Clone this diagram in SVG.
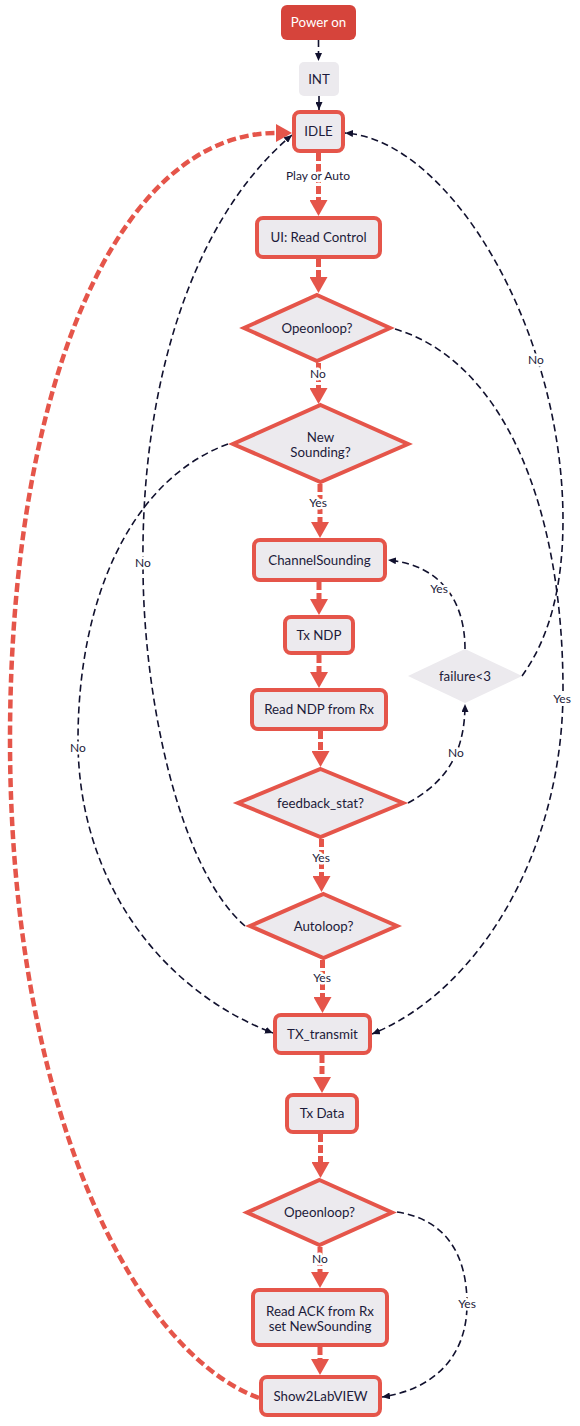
<svg xmlns="http://www.w3.org/2000/svg" width="580" height="1426" viewBox="0 0 580 1426">
<style>
.node{fill:#ECEAEE;stroke:#E5554A;stroke-width:4}
.dia{fill:#ECEAEE;stroke:#E5554A;stroke-width:4;stroke-linejoin:miter}
.plain{fill:#ECEAEE}
.t{font-family:Lato,"Open Sans",sans-serif;font-size:13.3px;fill:#1C1B3A;text-anchor:middle}
.tw{font-family:Lato,"Open Sans",sans-serif;font-size:13.3px;fill:#FFFFFF;text-anchor:middle}
.lbl{font-family:Lato,"Open Sans",sans-serif;font-size:12px;fill:#1C1B3A;text-anchor:middle;stroke:#FFFFFF;stroke-width:5;paint-order:stroke;stroke-linejoin:round}
.red{fill:none;stroke:#E5554A;stroke-width:5;stroke-dasharray:8 3}
.redc{fill:none;stroke:#E5554A;stroke-width:4.5;stroke-dasharray:9 4}
.dk{fill:none;stroke:#11112E;stroke-width:1.6;stroke-dasharray:7 4}
.dks{fill:none;stroke:#11112E;stroke-width:1.6}
</style>
<defs>
<marker id="ra" markerUnits="userSpaceOnUse" viewBox="0 0 16 18" refX="0" refY="9" markerWidth="16" markerHeight="18" orient="auto">
<path d="M0,0 L16,9 L0,18 z" fill="#E5554A"/>
</marker>
<marker id="da" markerUnits="userSpaceOnUse" viewBox="0 0 8 7" refX="8" refY="3.5" markerWidth="8" markerHeight="7" orient="auto">
<path d="M0,0 L8,3.5 L0,7 z" fill="#11112E"/>
</marker>
</defs>

<g id="connectors">
<path class="dk" d="M318.5,40 L318.5,61" marker-end="url(#da)"/>
<path class="dks" d="M319,96 L319,110" marker-end="url(#da)"/>
<path class="red" d="M318.5,153 L318.5,200" marker-end="url(#ra)"/>
<path class="red" d="M318.5,259 L318.5,277" marker-end="url(#ra)"/>
<path class="red" d="M318.5,363 L318.5,388" marker-end="url(#ra)"/>
<path class="red" d="M320,484 L320,522" marker-end="url(#ra)"/>
<path class="red" d="M319,582 L319,599" marker-end="url(#ra)"/>
<path class="red" d="M319,655 L319,672" marker-end="url(#ra)"/>
<path class="red" d="M320.5,731 L320.5,751" marker-end="url(#ra)"/>
<path class="red" d="M321.5,839 L321.5,876" marker-end="url(#ra)"/>
<path class="red" d="M322.5,960 L322.5,997" marker-end="url(#ra)"/>
<path class="red" d="M322,1055 L322,1077" marker-end="url(#ra)"/>
<path class="red" d="M320.5,1134 L320.5,1162" marker-end="url(#ra)"/>
<path class="red" d="M320,1247 L320,1272" marker-end="url(#ra)"/>
<path class="red" d="M320,1347 L320,1359" marker-end="url(#ra)"/>
<path class="redc" d="M259,1398 C130,1350 10,1100 10,740 C10,380 120,133 276,133" marker-end="url(#ra)"/>
<path class="dk" d="M395,329 C500,360 563,500 563,690 C563,850 480,990 372,1034" marker-end="url(#da)"/>
<path class="dk" d="M522,676 C548,640 563,590 563,520 C563,330 450,140 345,133" marker-end="url(#da)"/>
<path class="dk" d="M465,649 C465,600 440,565 388,560" marker-end="url(#da)"/>
<path class="dk" d="M408,803 C440,785 465,760 465,704" marker-end="url(#da)"/>
<path class="dk" d="M228,444 C130,480 78,600 78,740 C78,880 160,990 273,1033" marker-end="url(#da)"/>
<path class="dk" d="M245,926 C180,870 143,700 143,565 C141,400 185,225 292,135" marker-end="url(#da)"/>
<path class="dk" d="M397,1212 C450,1220 467,1260 467,1304 C467,1360 430,1390 382,1397" marker-end="url(#da)"/>
<text class="lbl" x="318" y="180">Play or Auto</text>
<text class="lbl" x="318" y="378">No</text>
<text class="lbl" x="318" y="507">Yes</text>
<text class="lbl" x="321" y="862">Yes</text>
<text class="lbl" x="322" y="982">Yes</text>
<text class="lbl" x="320" y="1263">No</text>
<text class="lbl" x="562" y="703">Yes</text>
<text class="lbl" x="536" y="364">No</text>
<text class="lbl" x="439" y="593">Yes</text>
<text class="lbl" x="456" y="757">No</text>
<text class="lbl" x="78" y="752">No</text>
<text class="lbl" x="143" y="567">No</text>
<text class="lbl" x="467" y="1308">Yes</text>
</g>

<g id="power_on"><rect x="281" y="5" width="75" height="35" rx="6" fill="#D6443B"/><text class="tw" x="318.5" y="27">Power on</text></g>
<g id="int"><rect class="plain" x="299" y="62" width="40" height="34" rx="5"/><text class="t" x="319" y="83.5">INT</text></g>
<g id="idle"><rect class="node" x="294" y="112" width="49" height="39" rx="6"/><text class="t" x="318.5" y="136">IDLE</text></g>
<g id="ui_read_control"><rect class="node" x="257" y="218" width="123" height="39" rx="6"/><text class="t" x="318.5" y="242">UI: Read Control</text></g>
<g id="opeonloop1"><polygon class="dia" points="317,295 390,328 317,361 244,328"/><text class="t" x="317" y="332.5">Opeonloop?</text></g>
<g id="new_sounding"><polygon class="dia" points="320.5,405 408,444 320.5,482 233,444"/><text class="t" x="320.5" y="441.5">New</text><text class="t" x="320.5" y="456.5">Sounding?</text></g>
<g id="channel_sounding"><rect class="node" x="254" y="540" width="131" height="40" rx="6"/><text class="t" x="319.5" y="564.5">ChannelSounding</text></g>
<g id="tx_ndp"><rect class="node" x="285" y="617" width="68" height="36" rx="6"/><text class="t" x="319" y="639.5">Tx NDP</text></g>
<g id="read_ndp"><rect class="node" x="252" y="690" width="134" height="39" rx="6"/><text class="t" x="319" y="714">Read NDP from Rx</text></g>
<g id="feedback_stat"><polygon class="dia" points="320.5,769 403,803 320.5,837 238,803"/><text class="t" x="320.5" y="807.5">feedback_stat?</text></g>
<g id="failure"><polygon class="plain" points="465,649 522,676 465,703 408,676"/><text class="t" x="465" y="680.5">failure&lt;3</text></g>
<g id="autoloop"><polygon class="dia" points="323.5,894 397,926 323.5,958 250,926"/><text class="t" x="323.5" y="930.5">Autoloop?</text></g>
<g id="tx_transmit"><rect class="node" x="275" y="1015" width="95" height="38" rx="6"/><text class="t" x="322.5" y="1038.5">TX_transmit</text></g>
<g id="tx_data"><rect class="node" x="287" y="1095" width="70" height="37" rx="6"/><text class="t" x="322" y="1118">Tx Data</text></g>
<g id="opeonloop2"><polygon class="dia" points="319.5,1180 392,1212.5 319.5,1245 247,1212.5"/><text class="t" x="319.5" y="1217">Opeonloop?</text></g>
<g id="read_ack"><rect class="node" x="253" y="1290" width="134" height="55" rx="6"/><text class="t" x="320" y="1315.5">Read ACK from Rx</text><text class="t" x="320" y="1330.5">set NewSounding</text></g>
<g id="show2labview"><rect class="node" x="261" y="1377" width="119" height="38" rx="6"/><text class="t" x="320.5" y="1400.5">Show2LabVIEW</text></g>
</svg>
